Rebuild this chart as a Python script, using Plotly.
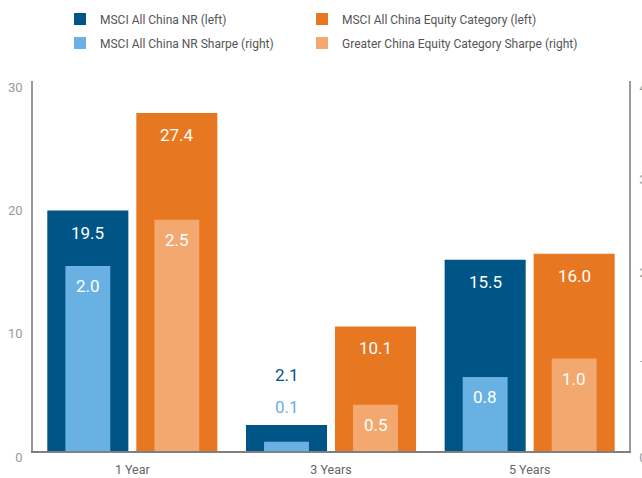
import plotly.graph_objects as go

# ---------------- data ----------------
categories = ["1 Year", "3 Years", "5 Years"]
msci_nr = [19.5, 2.1, 15.5]            # left axis
equity_category = [27.4, 10.1, 16.0]   # left axis
msci_nr_sharpe = [2.0, 0.1, 0.8]       # right axis
greater_china_sharpe = [2.5, 0.5, 1.0] # right axis
left_ticks = [0, 10, 20, 30]
right_ticks = [0, 1, 2, 3, 4]
series_names = [
    "MSCI All China NR (left)",
    "MSCI All China Equity Category (left)",
    "MSCI All China NR Sharpe (right)",
    "Greater China Equity Category Sharpe (right)",
]

# ---------------- style ----------------
FONT = "Roboto, Arial, sans-serif"
DARK_BLUE = "#005587"
ORANGE = "#E87722"
LIGHT_BLUE = "#69B1E2"
LIGHT_ORANGE = "#F3A86F"
W, H = 642, 478
ML, MR, MT, MB = 33, 13, 81, 27
PLOT_W = W - ML - MR
PLOT_H = H - MT - MB

WIDE_W, NARROW_W = 0.408, 0.226
LEFT_C, RIGHT_C = -0.224, 0.224

series = [
    dict(y=msci_nr, color=DARK_BLUE, axis="y", width=WIDE_W, center=LEFT_C, vmax=30, above=50, inside=-22),
    dict(y=equity_category, color=ORANGE, axis="y", width=WIDE_W, center=RIGHT_C, vmax=30, above=50, inside=-22),
    dict(y=msci_nr_sharpe, color=LIGHT_BLUE, axis="y2", width=NARROW_W, center=LEFT_C, vmax=4, above=35, inside=-20),
    dict(y=greater_china_sharpe, color=LIGHT_ORANGE, axis="y2", width=NARROW_W, center=RIGHT_C, vmax=4, above=35, inside=-20),
]
legend_pos = [(60, 19), (302, 19), (60, 43), (302, 43)]

fig = go.Figure()
annotations = []
layout_legends = {}
for k, (s, name, (lx, ly)) in enumerate(zip(series, series_names, legend_pos)):
    lname = "legend" if k == 0 else f"legend{k + 1}"
    fig.add_trace(go.Bar(
        x=categories, y=s["y"], name=name, yaxis=s["axis"],
        width=s["width"], offset=s["center"] - s["width"] / 2,
        marker=dict(color=s["color"], line=dict(width=0)),
        legend=lname, hoverinfo="x+y",
    ))
    layout_legends[lname] = dict(
        x=(lx - ML) / PLOT_W, y=(H - MB - ly) / PLOT_H,
        xanchor="left", yanchor="middle", xref="paper", yref="paper",
        bgcolor="rgba(0,0,0,0)", borderwidth=0,
        font=dict(family=FONT, size=12, color="#555555"),
        itemclick=False, itemdoubleclick=False,
    )
    for i, v in enumerate(s["y"]):
        px_h = v / s["vmax"] * PLOT_H
        inside = px_h > 30
        annotations.append(dict(
            x=i + s["center"], y=v, xref="x", yref=s["axis"],
            text=f"{v:.1f}", showarrow=False,
            yanchor="middle", xanchor="center",
            yshift=s["inside"] if inside else s["above"],
            font=dict(family=FONT, size=17, color="white" if inside else s["color"]),
        ))

fig.update_layout(
    width=W, height=H,
    margin=dict(l=ML, r=MR, t=MT, b=MB, pad=0, autoexpand=False),
    paper_bgcolor="white", plot_bgcolor="white",
    barmode="overlay",
    showlegend=True,
    annotations=annotations,
    font=dict(family=FONT),
    xaxis=dict(
        type="category", range=[-0.5, 2.5], automargin=False,
        showline=True, linecolor="#7f7f7f", linewidth=1.5,
        showgrid=False, zeroline=False, ticks="",
        tickfont=dict(family=FONT, size=12.5, color="#666666"),
        ticklabelstandoff=6,
        fixedrange=True,
    ),
    yaxis=dict(
        range=[0, 30], tickvals=left_ticks, automargin=False,
        showline=True, linecolor="#9a9a9a", linewidth=1.5,
        showgrid=False, zeroline=False, ticks="",
        tickfont=dict(family=FONT, size=13, color="#9a9a9a"),
        ticklabelshift=6, ticklabelstandoff=6,
        fixedrange=True,
    ),
    yaxis2=dict(
        range=[0, 4], tickvals=right_ticks, overlaying="y", side="right",
        automargin=False,
        showline=True, linecolor="#9a9a9a", linewidth=1.5,
        showgrid=False, zeroline=False, ticks="",
        tickfont=dict(family=FONT, size=13, color="#9a9a9a"),
        ticklabelshift=6, ticklabelstandoff=6,
        fixedrange=True,
    ),
    **layout_legends,
)

fig.write_html(
    "out.html",
    config={"displayModeBar": False},
    post_script="document.body.style.margin='0';document.body.style.overflow='hidden';",
)
